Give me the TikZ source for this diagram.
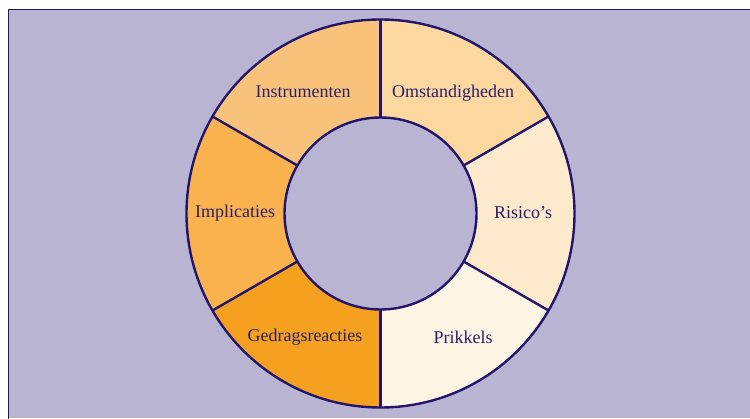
\documentclass[tikz,border=0pt]{standalone}
\usepackage{fontspec}
\setmainfont{Liberation Serif}
\usetikzlibrary{calc}
\definecolor{bgc}{HTML}{B8B4D2}
\definecolor{navy}{HTML}{21166A}
\definecolor{txt}{HTML}{2A1F6B}
\definecolor{cInstr}{HTML}{F9C27A}
\definecolor{cOmst}{HTML}{FDD7A0}
\definecolor{cRisi}{HTML}{FDE9CC}
\definecolor{cPrik}{HTML}{FEF4E3}
\definecolor{cGedr}{HTML}{F5A11F}
\definecolor{cImpl}{HTML}{F9B24E}
\tikzset{
  lab/.style={text=txt, font=\fontsize{18}{21}\selectfont, inner sep=0pt},
  ringline/.style={draw=navy, line width=2.4pt}
}
\begin{document}
\begin{tikzpicture}[x=1pt,y=1pt]
\useasboundingbox (0,0) rectangle (750,418);
\fill[bgc] (8.5,0) rectangle (750,408.5);
\draw[navy, line width=1.8pt] (8.5,-2) -- (8.5,408.5) -- (752,408.5);
\coordinate (c) at (380.5,204.5);
\def\Ro{194}
\def\Ri{96}
\foreach \a/\col in {90/cInstr, 30/cOmst, -30/cRisi, -90/cPrik, -150/cGedr, 150/cImpl}{
  \fill[\col] ($(c)+(\a:\Ro)$) arc[start angle=\a, delta angle=60, radius=\Ro]
     -- ($(c)+(\a+60:\Ri)$) arc[start angle=\a+60, delta angle=-60, radius=\Ri] -- cycle;
}
\foreach \a in {90,30,-30,-90,-150,150}{
  \draw[ringline] ($(c)+(\a:\Ri)$) -- ($(c)+(\a:\Ro)$);
}
\draw[ringline] (c) circle[radius=\Ro];
\draw[ringline] (c) circle[radius=\Ri];
\node[lab] (instr) at (303,326) {Instrumenten};
\node[lab] (omst) at (453,325) {Omstandigheden};
\node[lab] (impl) at (235,205) {Implicaties};
\node[lab] (risi) at (523,205) {Risico’s};
\node[lab] (gedr) at (305,81) {Gedragsreacties};
\node[lab] (prik) at (463,81) {Prikkels};
\end{tikzpicture}
\end{document}
